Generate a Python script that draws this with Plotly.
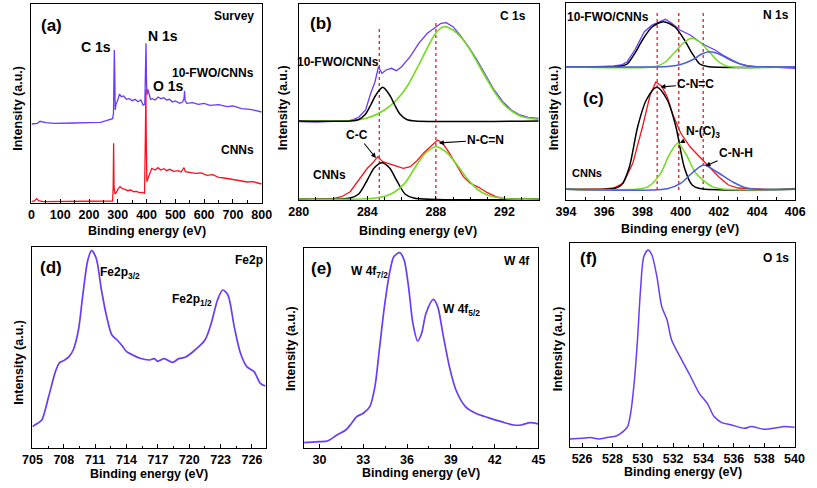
import plotly.graph_objects as go

W, H = 817, 488

# ---------------- data ----------------
# (a) survey
a_x_fwo = [0,20,30,50,80,100,150,200,240,260,275,282,285,286.5,288,289.5,291,294,300,306,312,320,330,340,350,360,370,380,388,394,396.5,398,399.5,401,404,408,414,420,430,440,450,460,470,480,490,500,515,525,530,532,534,540,560,580,600,620,650,680,700,730,760,780,800]
a_y_fwo = [79,79.7,81.7,80.3,79.7,80,80,80.3,80.7,82.3,83.7,84.3,89.7,129.7,153,129.7,93,99,103,109,106.3,107,103.7,104.3,102.3,103.7,101.3,103,98,99,129.7,159.7,126.3,108,113.7,109,103.7,104.3,103,106,104.3,105.3,103,103.7,101,102,99.7,101,104.3,112.3,102.3,99.7,100.3,98.7,99.7,97.7,98.3,96.3,97,94.3,93.7,92.3,91]
a_x_cnn = [0,10,18,25,40,100,200,270,282,284,285.5,287,290,296,302,308,316,325,335,345,355,365,375,385,393,396,397.5,399,401,405,410,418,430,440,450,460,470,480,495,510,520,530,535,550,570,590,610,630,650,670,690,710,730,750,770,800]
a_y_cnn = [1.3,2,4.3,2.3,1.3,1.3,1.7,1.7,2,16.3,59.7,16.3,9,11,14.7,16.3,14.3,13.7,12.3,13,11.3,11.7,10.3,10.7,9.7,69.7,113,63,21.3,24.7,29,34.7,33,35.3,33,34.3,32.3,33.7,31.7,32.3,31,35.3,31.3,30.3,29.7,30,27.7,28.3,25.7,25,23.7,23,22,21,21.3,19]

# (b) C 1s
b_x_fwo = [280,281,282,283,283.5,283.9,284.2,284.45,284.65,284.85,285.1,285.4,285.7,286.0,286.5,287.0,287.5,287.9,288.3,288.6,289.0,289.4,289.9,290.4,290.9,291.4,291.9,292.4,292.9,293.4,294]
b_y_fwo = [78.3,78,78.7,79.3,82.7,90,106.7,118.3,133.3,126.7,130,131.7,129.3,133.3,143.3,156.7,166.7,171.7,176.7,177.3,173.3,165,153.3,140,125,110,98.3,90,85,82.7,81.7]
b_x_fwo_g = [280,283,284,285,285.7,286.3,287,287.5,288,288.45,289,289.5,290,290.5,291,291.5,292,292.5,293,294]
b_y_fwo_g = [79,79.5,82,90,100,113,135,152,167,173.3,170,162,150,135,120,106,95,88,83.5,80.5]
b_x_fwo_k = [280,283.0,283.5,283.9,284.2,284.5,284.9,285.3,285.6,285.9,286.3,286.8,294]
b_y_fwo_k = [79,79,80.5,86,95,105,112.7,105,95,86,80.5,79,79]
b_x_cnn = [280,281,282,282.5,283,283.5,284.0,284.3,284.6,284.9,285.3,285.7,286.1,286.5,286.9,287.3,287.7,288.1,288.4,288.8,289.2,289.6,290.0,290.5,291.0,291.5,292.0,293,294]
b_y_cnn = [0.7,1,1.3,3.3,8.3,20,31.7,36.7,43.3,38.3,36,33.3,31.7,33.3,39.3,47.3,54,60,56.7,46.7,35,23.3,16.7,12.7,7.3,3.3,1.3,0.7,0.7]
b_x_cnn_k = [280,283.0,283.5,284.0,284.4,284.85,285.3,285.7,286.2,286.7,294]
b_y_cnn_k = [1,2,6,20,32,37.3,32,20,6,2,1]
b_x_cnn_g = [280,284.5,285.5,286.2,286.8,287.4,288.0,288.6,289.2,289.8,290.4,291.0,292.0,294]
b_y_cnn_g = [1,2,7,17,33,47,53.3,48,36,22,11,5,1.5,1]
b_ref_x = [284.7, 288.0]
b_ref_top = [172, 179]

# (c) N 1s
c_x_fwo = [394,395,396,396.5,396.9,397.2,397.6,398.1,398.5,398.9,399.2,399.5,399.96,400.5,401.15,401.8,402.2,402.7,403.1,403.5,404,405,406]
c_y_fwo = [133.3,133,133.7,134,135,138.3,150,168.3,175,178.3,180.7,177.3,170,165,156,150,145,140,136,134,133.3,132.7,131.7]
c_x_fwo_k = [394,396.8,397.2,397.6,398.0,398.5,399.1,399.7,400.2,400.6,401.0,401.4,406]
c_y_fwo_k = [133.3,133.5,136,146.7,160,173,178.3,173,160,146.7,136,133.5,133.3]
c_x_fwo_g = [394,398.7,399.2,399.7,400.2,400.6,401.0,401.5,402.0,402.5,406]
c_y_fwo_g = [133.3,133.5,138,148,158,161.7,158,148,138,133.5,133.3]
c_x_fwo_b = [394,399.3,400.0,400.6,401.1,401.5,402.0,402.6,403.2,403.8,406]
c_y_fwo_b = [133.3,133.5,135.5,140,146,148.3,146,140,135.5,133.5,133.3]
c_x_cnn = [394,395,396,396.5,397,397.5,398.0,398.4,398.7,399.0,399.3,399.6,400.0,400.5,401.0,401.5,402.0,402.5,403.0,404,405,406]
c_y_cnn = [10.7,10.5,11,12,17,37,73,105,118,114,103,85,67,53,43,33,23,15,12,11,10.3,11.7]
c_x_cnn_k = [394,396.5,396.9,397.3,397.75,398.2,398.75,399.3,399.75,400.2,400.6,401.0,406]
c_y_cnn_k = [10.7,11.5,15,32,73.3,100,112.7,100,73.3,32,15,11.5,10.7]
c_x_cnn_g = [394,397.8,398.3,398.95,399.4,399.85,400.3,400.8,401.65,402.2,406]
c_y_cnn_g = [10.7,11,13.3,26.7,45,56.7,45,26.7,13.3,11,10.7]
c_x_cnn_b = [394,399.3,400.0,400.6,401.2,401.9,402.7,403.5,406]
c_y_cnn_b = [10.7,11.3,16.7,27,35,28,18.3,11.7,10.7]
c_ref_x = [398.77, 399.9, 401.18]
c_ref_bot = 10
c_ref_top = 187

# (d) Fe 2p
d_x = [705.0,705.5,705.9,706.55,707.2,707.6,708.0,708.5,708.9,709.4,709.8,710.3,710.66,711.1,711.6,712.1,712.6,713.1,713.6,714.0,714.6,715.3,716.2,716.65,716.98,717.6,718.4,719.0,719.6,720.55,721.5,722.1,722.7,723.2,723.7,724.3,724.9,725.5,726.2,726.8,727.3]
d_y = [21.7,25,28.3,51.7,76.7,85.7,87.7,91.7,98.3,118.3,151.7,188.3,197.7,190,158.3,131.7,113.3,108.3,102.3,96.7,93.3,90,88.3,89.7,87,89.7,86,89.7,91,98.3,108.3,125,148.3,158.3,153.3,121.7,95,81.7,76.7,65,62.3]

# (e) W 4f
e_x = [28.93,30.0,30.55,31.2,31.8,32.2,32.55,33.0,33.45,33.8,34.1,34.45,34.8,35.1,35.5,35.8,36.1,36.4,36.73,37.0,37.3,37.8,38.1,38.45,38.9,39.35,40.0,40.7,41.55,42.45,43.3,43.8,44.45,45.0]
e_y = [5.7,6.7,7.3,13.3,18.3,25,31.7,35,41.7,61.7,98.3,141.7,175,191.7,195.7,188.3,161.7,125,107.3,115,135,149,141.7,115,81.7,58.3,41.7,35,30.7,26.7,23.3,23.3,25.7,24.3]

# (f) O 1s
f_x = [525.2,526.0,526.55,527.1,527.7,528.25,528.7,529.0,529.2,529.45,529.65,529.85,530.07,530.35,530.6,530.93,531.25,531.6,531.9,532.45,533.1,533.72,534.25,534.7,535.2,535.86,536.7,537.15,538.0,538.9,539.3,540.0]
f_y = [8.3,9,9.7,8.3,10,11.3,15.7,20.7,34,67.3,107.3,157.3,190.7,197.3,192.3,170.7,140.7,127.3,107.3,90.7,72.3,54,44,30.7,24.7,22.3,19,20.7,18,19.7,20.7,20]

# ---------------- style ----------------
PURPLE = "#6a3cf2"
RED = "#f5141e"
GREEN = "#72dc1e"
BLUE = "#4a5fd6"
BLACK = "#000000"
FONT = "Arial, 'Liberation Sans', sans-serif"

# panel frames in pixels: (left, right, top, bottom)
panels = {
    1: (22, 258, 4, 203),
    2: (296, 542, 4, 200),
    3: (570, 805, 3, 200),
    4: (23, 262, 247, 448.3),
    5: (301.5, 541.7, 247.5, 448.3),
    6: (574, 805, 243, 447.3),
}
xranges = {1: [0, 800], 2: [280, 294], 3: [394, 406], 4: [705, 727.3], 5: [28.95, 45], 6: [525.2, 540.05]}
xticks = {1: (0, 100, 50), 2: (280, 4, 1), 3: (394, 2, 1), 4: (705, 3, 1.5), 5: (30, 3, 1.5), 6: (526, 2, 1)}

fig = go.Figure()

def add(n, x, y, color, shape="linear", width=1.4, dash=None):
    xa = "x" if n == 1 else f"x{n}"
    ya = "y" if n == 1 else f"y{n}"
    line = dict(color=color, width=width, shape=shape)
    if shape == "spline":
        line["smoothing"] = 0.8
    if dash:
        line["dash"] = dash
    fig.add_trace(go.Scatter(x=x, y=y, mode="lines", line=line, xaxis=xa, yaxis=ya,
                             showlegend=False, hoverinfo="skip"))

# (a)
add(1, a_x_fwo, a_y_fwo, PURPLE, width=1.3)
add(1, a_x_cnn, a_y_cnn, RED, width=1.3)
# (b)
for xv, top in zip(b_ref_x, b_ref_top):
    add(2, [xv, xv], [0, top], RED, width=1.3, dash="dot")
add(2, b_x_fwo, b_y_fwo, PURPLE, width=1.3)
add(2, b_x_fwo_g, b_y_fwo_g, GREEN, shape="spline", width=1.6)
add(2, b_x_fwo_k, b_y_fwo_k, BLACK, shape="spline", width=1.5)
add(2, b_x_cnn, b_y_cnn, RED, width=1.3)
add(2, b_x_cnn_k, b_y_cnn_k, BLACK, shape="spline", width=1.5)
add(2, b_x_cnn_g, b_y_cnn_g, GREEN, shape="spline", width=1.6)
# (c)
for xv in c_ref_x:
    add(3, [xv, xv], [c_ref_bot, c_ref_top], RED, width=1.3, dash="dot")
add(3, c_x_fwo, c_y_fwo, PURPLE, width=1.3)
add(3, c_x_fwo_k, c_y_fwo_k, BLACK, shape="spline", width=1.5)
add(3, c_x_fwo_g, c_y_fwo_g, GREEN, shape="spline", width=1.5)
add(3, c_x_fwo_b, c_y_fwo_b, BLUE, shape="spline", width=1.5)
add(3, c_x_cnn, c_y_cnn, RED, width=1.3)
add(3, c_x_cnn_k, c_y_cnn_k, BLACK, shape="spline", width=1.5)
add(3, c_x_cnn_g, c_y_cnn_g, GREEN, shape="spline", width=1.5)
add(3, c_x_cnn_b, c_y_cnn_b, BLUE, shape="spline", width=1.5)
# (d)(e)(f)
add(4, d_x, d_y, PURPLE, shape="spline", width=1.7)
add(5, e_x, e_y, PURPLE, shape="spline", width=1.7)
add(6, f_x, f_y, PURPLE, shape="spline", width=1.5)

layout = dict(width=W, height=H, margin=dict(l=0, r=0, t=0, b=0),
              paper_bgcolor="white", plot_bgcolor="white",
              font=dict(family=FONT, color="black", size=12, weight="bold"))
for n, (l, r, t, b) in panels.items():
    xk = "xaxis" if n == 1 else f"xaxis{n}"
    yk = "yaxis" if n == 1 else f"yaxis{n}"
    t0, dt, mdt = xticks[n]
    layout[xk] = dict(domain=[l / W, r / W], range=xranges[n], anchor="y" if n == 1 else f"y{n}",
                      showline=True, linecolor="black", linewidth=1.2, mirror=True,
                      ticks="inside", ticklen=4, tickwidth=1.1, tickcolor="black",
                      tick0=t0, dtick=dt, showgrid=False, zeroline=False,
                      tickfont=dict(family=FONT, size=12.5, color="black", weight="bold"),
                      minor=dict(ticks="inside", ticklen=2.5, tickwidth=1, tickcolor="black", dtick=mdt, tick0=t0, showgrid=False))
    layout[yk] = dict(domain=[1 - b / H, 1 - t / H], range=[0, b - t], anchor="x" if n == 1 else f"x{n}",
                      showline=True, linecolor="black", linewidth=1.2, mirror=True,
                      showticklabels=False, ticks="", showgrid=False, zeroline=False, fixedrange=True)
fig.update_layout(**layout)

ann = []
def txt(n, x, y, s, size=12, **kw):
    xr = "x" if n == 1 else f"x{n}"
    yr = "y" if n == 1 else f"y{n}"
    d = dict(x=x, y=y, xref=xr, yref=yr, text=s, showarrow=False,
             font=dict(family=FONT, size=size, color="black", weight="bold"))
    d.update(kw)
    ann.append(d)

def arrow(n, x, y, tx, ty, s, size=12):
    xr = "x" if n == 1 else f"x{n}"
    yr = "y" if n == 1 else f"y{n}"
    ann.append(dict(x=x, y=y, xref=xr, yref=yr, ax=tx, ay=ty, axref=xr, ayref=yr, text=s,
                    showarrow=True, arrowhead=2, arrowsize=0.9, arrowwidth=1.1, arrowcolor="black",
                    standoff=0, startstandoff=0,
                    font=dict(family=FONT, size=size, color="black", weight="bold")))

# (a)
txt(1, 68, 178, "(a)", size=17)
txt(1, 705, 187, "Survey", size=12)
txt(1, 224, 156, "C 1s", size=14)
txt(1, 458, 167, "N 1s", size=14)
txt(1, 475, 117, "O 1s", size=14)
txt(1, 631, 130, "10-FWO/CNNs", size=12)
txt(1, 715, 53, "CNNs", size=12)
# (b)
txt(2, 281.3, 177, "(b)", size=17)
txt(2, 292.47, 184, "C 1s", size=12)
txt(2, 282.27, 138, "10-FWO/CNNs", size=12)
arrow(2, 284.5, 42, 283.42, 65, "C-C", size=12)
txt(2, 281.8, 25, "CNNs", size=12)
arrow(2, 288.17, 57, 290.92, 60, "N-C=N", size=12)
# (c)
txt(3, 396.2, 183, "10-FWO/CNNs", size=12)
txt(3, 404.98, 185, "N 1s", size=12)
txt(3, 395.45, 102, "(c)", size=17)
arrow(3, 398.94, 113, 400.8, 116, "C-N=C", size=12)
arrow(3, 399.96, 57, 401.15, 68, "N-(C)<sub>3</sub>", size=12)
arrow(3, 401.3, 34, 402.9, 47, "C-N-H", size=12)
txt(3, 395.1, 27, "CNNs", size=11)
# (d)
txt(4, 706.74, 181, "(d)", size=17)
txt(4, 725.7, 188, "Fe2p", size=12)
txt(4, 713.4, 175, "Fe2p<sub>3/2</sub>", size=12)
txt(4, 720.3, 148, "Fe2p<sub>1/2</sub>", size=12)
# (e)
txt(5, 30.16, 180, "(e)", size=17)
txt(5, 43.56, 187, "W 4f", size=12)
txt(5, 33.42, 176, "W 4f<sub>7/2</sub>", size=12)
txt(5, 39.76, 138, "W 4f<sub>5/2</sub>", size=12)
# (f)
txt(6, 526.4, 189, "(f)", size=17)
txt(6, 538.76, 189, "O 1s", size=12)

# axis titles (paper coords)
def ptxt(px, py, s, angle=0, size=12.5):
    ann.append(dict(x=px / W, y=1 - py / H, xref="paper", yref="paper", text=s, showarrow=False,
                    textangle=angle, xanchor="center", yanchor="middle",
                    font=dict(family=FONT, size=size, color="black", weight="bold")))

for cx, cy in [(140, 231), (418, 231), (687, 229), (143, 474), (421, 473), (690, 472)]:
    ptxt(cx, cy, "Binding energy (eV)")
for cx, cy in [(8, 108), (280, 108), (558, 108), (9, 362), (288, 348), (562, 349)]:
    ptxt(cx, cy, "Intensity (a.u.)", angle=-90)

fig.update_layout(annotations=ann)
fig.write_html("out.html", config={"displayModeBar": False},
               post_script="document.body.style.margin='0px';document.body.style.overflow='hidden';")
